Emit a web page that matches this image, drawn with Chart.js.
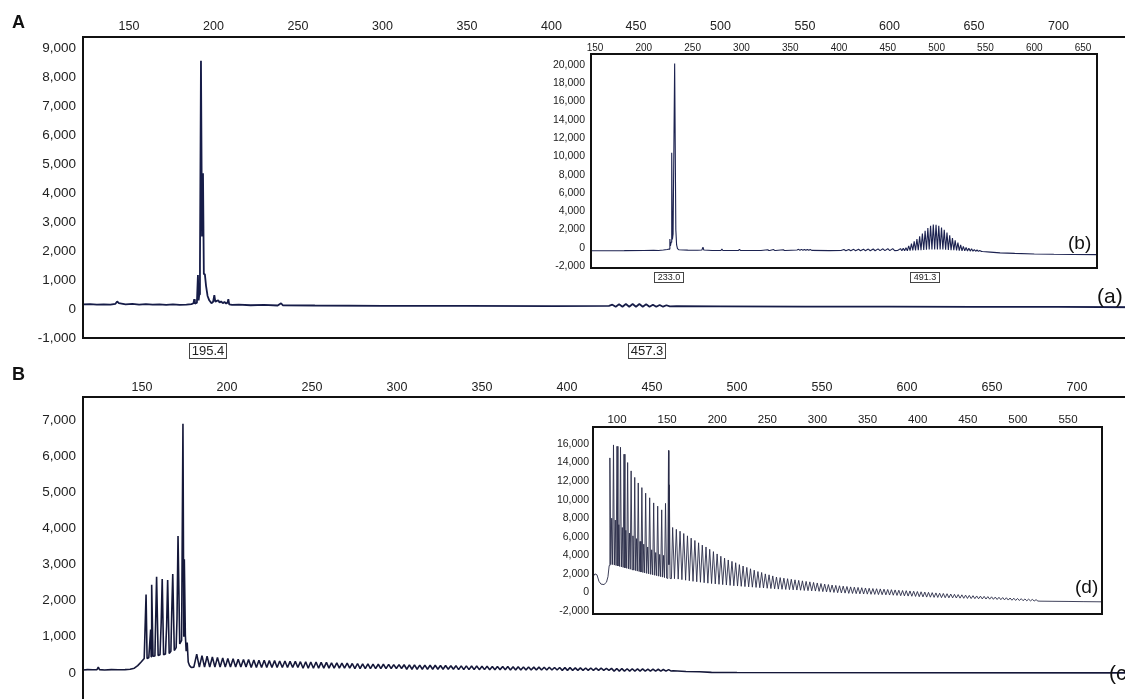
<!DOCTYPE html>
<html>
<head>
<meta charset="utf-8">
<script src="https://cdn.jsdelivr.net/npm/chart.js@4.4.1/dist/chart.umd.min.js"></script>
<style>
  html, body { margin: 0; padding: 0; background: #fff; width: 1125px; height: 699px; overflow: hidden; }
  canvas { position: absolute; }
  .tag { position: absolute; font-family: 'Liberation Sans', Arial, sans-serif; color: #111; line-height: 1; white-space: nowrap; }
</style>
</head>
<body>
<canvas id="chartA" width="1140" height="362" style="left:0;top:0"></canvas>
<canvas id="chartC" width="1140" height="365" style="left:0;top:360px"></canvas>
<canvas id="insetB" width="559" height="245" style="left:540px;top:40px"></canvas>
<canvas id="insetD" width="564" height="219" style="left:540px;top:406px"></canvas>
<div class="tag" style="left:12px;top:13px;font-size:18px;font-weight:bold">A</div>
<div class="tag" style="left:12px;top:365px;font-size:18px;font-weight:bold">B</div>
<div class="tag" style="left:1097px;top:285px;font-size:21px">(a)</div>
<div class="tag" style="left:1068px;top:233px;font-size:19px">(b)</div>
<div class="tag" style="left:1109px;top:662px;font-size:21px">(c)</div>
<div class="tag" style="left:1075px;top:577px;font-size:19px">(d)</div>
<script>
// ticks
const topTicksAC = [150, 200, 250, 300, 350, 400, 450, 500, 550, 600, 650, 700];
const yTicksA = [-1000, 0, 1000, 2000, 3000, 4000, 5000, 6000, 7000, 8000, 9000];
const yTicksC = [-1000, 0, 1000, 2000, 3000, 4000, 5000, 6000, 7000];
const topTicksB = [150, 200, 250, 300, 350, 400, 450, 500, 550, 600, 650];
const yTicksB = [-2000, 0, 2000, 4000, 6000, 8000, 10000, 12000, 14000, 16000, 18000, 20000];
const topTicksD = [100, 150, 200, 250, 300, 350, 400, 450, 500, 550];
const yTicksD = [-2000, 0, 2000, 4000, 6000, 8000, 10000, 12000, 14000, 16000];

// (a) main trace A
const aX = [122.8, 127, 131, 135, 139, 142, 143, 144, 148, 152, 156, 160, 164, 168, 172, 176, 180, 184, 187, 188.2,
  188.6, 189, 190.2, 190.8, 191.2, 191.6, 192.0, 192.6, 193.2, 193.8, 194.3, 194.9, 195.6, 196.5, 197.5, 198.8, 199.8,
  200.5, 201.1, 202, 202.9, 203.6, 204.5, 205.5, 206.5, 207.5, 208.3, 208.8, 209.3, 211, 215, 222, 230, 238, 240, 241,
  260, 300, 350, 400, 434, 436, 438, 440, 442, 444, 446, 448, 450, 452, 454, 456, 458, 460, 462, 464, 466, 468, 470,
  474, 500, 550, 600, 650, 700, 748.2];
const aY = [160, 170, 150, 160, 150, 180, 260, 200, 160, 180, 150, 170, 150, 160, 140, 160, 140, 150, 170, 200,
  340, 180, 220, 1170, 300, 500, 1500, 8560, 2500, 4680, 1200, 1200, 800, 450, 300, 200, 250,
  480, 250, 280, 300, 220, 260, 200, 240, 190, 220, 340, 160, 140, 150, 130, 140, 120, 200, 130,
  120, 110, 110, 100, 110, 150, 80, 160, 80, 170, 80, 170, 80, 170, 80, 160, 80, 150, 80, 140, 80, 130, 90,
  100, 90, 80, 80, 70, 70, 60];

// (b) inset of A
const bX = [145.9, 160, 180, 200, 210, 215, 220, 224, 226, 226.7, 227.3, 228.0, 228.6, 229.3, 230.0, 231.6, 232.8, 233.6,
  234.5, 236, 245, 255, 259.5, 260.6, 261.5, 270, 279, 280, 281, 297, 298, 299, 320, 327, 328, 329, 333, 334, 335, 343,
  344, 345, 357, 358.5, 360, 361.5, 363, 364.5, 366, 367.5, 369, 370.5, 372, 390, 402, 405, 407, 410, 412, 415, 417,
  420, 422, 425, 427, 430, 432, 435, 437, 440, 442, 445, 447, 450, 452, 455, 457, 460];
const bY = [-330, -330, -320, -300, -270, -300, -250, -200, -150, 950, 200, 600, 10400, 900, 1500, 20150, 2000, 300,
  -100, -230, -260, -280, -250, 50, -250, -300, -300, -150, -300, -300, -180, -300, -300, -220, -300, -300, -200, -300, -300, -220,
  -300, -300, -250, -180, -270, -180, -270, -190, -280, -190, -280, -200, -290, -320, -300, -200, -330, -190, -330, -180, -330,
  -170, -330, -160, -330, -150, -330, -140, -330, -130, -320, -120, -320, -110, -320, -100, -320, -300];
const bCombX = [463.0, 465.8, 468.6, 471.4, 474.2, 477.0, 479.8, 482.6, 485.4, 488.2, 491.0, 493.8, 496.6, 499.4, 502.2,
  505.0, 507.8, 510.6, 513.4, 516.2, 519.0, 521.8, 524.6, 527.4, 530.2, 533.0, 535.8, 538.6, 541.4, 544.2];
const bCombH = [-100, -50, 0, 200, 450, 700, 950, 1250, 1550, 1850, 2150, 2400, 2550, 2500, 2400,
  2200, 1950, 1650, 1350, 1050, 800, 550, 320, 150, 30, -50, -120, -200, -250, -300];
const bCombV = [-330, -330, -330, -320, -300, -300, -280, -260, -250, -230, -200, -200, -180, -180, -200,
  -200, -220, -240, -260, -280, -300, -320, -340, -350, -360, -370, -380, -390, -400, -400];
const bTailX = [547, 555, 565, 580, 600, 620, 640, 664.3];
const bTailY = [-420, -480, -560, -620, -680, -720, -750, -760];

// (c) main trace B
const cX = [115.3, 118, 121, 123.5, 124.3, 125, 128, 132, 136, 140, 143, 145.5, 147.5, 149.5, 151.3, 152.4, 153.0, 154.0,
  155.1, 155.4, 155.7, 156.5, 157.6, 158.6, 159.5, 160.6, 161.3, 161.9, 162.7, 163.8, 164.5, 165.1, 166.0, 167.0, 167.5,
  168.1, 169.0, 170.1, 170.6, 171.2, 172.2, 173.3, 174.1, 174.6, 174.9, 175.5, 176.0, 176.6, 177.2, 178.0, 179.0, 180.5];
const cY = [80, 90, 85, 90, 160, 90, 80, 90, 85, 90, 100, 130, 200, 300, 400, 2170, 400, 420,
  1200, 450, 2440, 460, 470, 2660, 480, 500, 1400, 2600, 500, 520, 1300, 2570, 540, 600, 1670,
  2740, 620, 700, 1500, 3790, 800, 900, 6900, 1000, 3150, 1050, 600, 840, 300, 200, 150, 160];
const cRipX = [182.2, 185.3, 188.3, 191.4, 194.4, 197.5, 200.5, 203.6, 206.6, 209.7,
  212.7, 215.8, 218.8, 221.9, 224.9, 228.0, 231.0, 234.1, 237.1, 240.2,
  243.2, 246.3, 249.3, 252.4, 255.4, 258.5, 261.5, 264.6, 267.6, 270.7,
  273.7, 276.8, 279.8, 282.9, 285.9, 289.0, 292.0, 295.1, 298.1, 301.2,
  304.2, 307.3, 310.3, 313.4, 316.4, 319.5, 322.5, 325.6, 328.6, 331.7,
  334.7, 337.8, 340.8, 343.9, 346.9, 350.0, 353.0, 356.1, 359.1, 362.2,
  365.2, 368.3, 371.3, 374.4, 377.4, 380.5, 383.5, 386.6, 389.6, 392.7,
  395.7, 398.8, 401.8, 404.9, 407.9, 411.0, 414.0, 417.1, 420.1, 423.2,
  426.2, 429.3, 432.3, 435.4, 438.4, 441.5, 444.5, 447.6, 450.6, 453.7,
  456.7, 459.8];
const cRipH = [520, 480, 460, 440, 430, 410, 400, 390, 380, 370,
  370, 360, 350, 350, 340, 340, 330, 330, 320, 320,
  310, 310, 300, 300, 290, 290, 280, 280, 270, 270,
  260, 260, 250, 250, 245, 240, 240, 235, 230, 230,
  225, 220, 220, 215, 215, 210, 210, 205, 205, 200,
  200, 195, 195, 190, 190, 185, 185, 180, 180, 175,
  175, 170, 170, 165, 165, 160, 160, 155, 155, 150,
  150, 145, 145, 140, 140, 135, 135, 130, 130, 125,
  125, 120, 120, 115, 115, 110, 110, 105, 105, 100,
  95, 90];
const cRipV = [160, 160, 160, 160, 160, 160, 160, 160, 160, 160,
  150, 150, 150, 150, 150, 150, 150, 150, 150, 150,
  130, 130, 130, 130, 130, 130, 130, 130, 130, 130,
  120, 120, 120, 120, 120, 120, 120, 120, 120, 120,
  100, 100, 100, 100, 100, 100, 100, 100, 100, 100,
  90, 90, 90, 90, 90, 90, 90, 90, 90, 90,
  80, 80, 80, 80, 80, 80, 80, 80, 80, 80,
  70, 70, 70, 70, 70, 70, 70, 70, 70, 70,
  50, 50, 50, 50, 50, 50, 50, 50, 50, 50,
  50, 50];
const cTailX = [462.5, 470, 478, 485, 500, 600, 737.1];
const cTailY = [60, 40, 30, 15, 10, 5, 0];

// (d) inset of B
const dX = [76.05, 78, 80, 82, 84, 87, 89.5, 91, 92.2,
  92.9, 93.8, 94.7, 95.6, 96.5, 97.4, 98.3, 99.1, 100.0, 100.9, 101.8, 102.6,
  103.5, 104.4, 105.3, 106.1, 107.0, 107.9, 108.8, 109.7, 110.6, 111.5, 112.4, 113.2,
  114.1, 115.0, 115.9, 116.8, 117.7, 118.6, 119.5, 120.3, 121.2, 122.1, 123.0, 123.9,
  124.8, 125.8, 126.7, 127.6, 128.6, 129.6, 130.6, 131.6, 132.6, 133.6, 134.6, 135.6,
  136.6, 137.6, 138.6, 139.6, 140.6, 141.6, 142.6, 143.6, 144.6, 145.5, 146.5, 147.4,
  148.4, 149.5, 150.6, 151.4, 151.8, 152.2, 153.0, 154.3];
const dY = [1700, 2000, 1900, 1200, 900, 850, 1100, 1700, 2900,
  14500, 3000, 8000, 3000, 15900, 2950, 7800, 2900, 15750, 2850, 7300, 2800,
  15650, 2750, 7000, 2700, 14900, 2650, 6700, 2600, 14000, 2550, 6400, 2500,
  13100, 2450, 6100, 2400, 12400, 2350, 5800, 2300, 11800, 2250, 5500, 2200,
  11300, 2150, 5200, 2100, 10700, 2050, 4900, 2000, 10200, 1950, 4600, 1900,
  9650, 1850, 4300, 1800, 9300, 1750, 4100, 1700, 8900, 1650, 4000, 1600,
  9600, 1550, 1500, 15300, 3000, 11600, 1500, 1490];
const dCombX = [155.5, 159.2, 162.9, 166.6, 170.3, 174.0, 177.7, 181.4, 185.1, 188.8,
  192.5, 196.2, 199.9, 203.6, 207.3, 211.0, 214.7, 218.4, 222.1, 225.8,
  229.5, 233.2, 236.9, 240.6, 244.3, 248.0, 251.7, 255.4, 259.1, 262.8,
  266.5, 270.2, 273.9, 277.6, 281.3, 285.0, 288.7, 292.4, 296.1, 299.8,
  303.5, 307.2, 310.9, 314.6, 318.3, 322.0, 325.7, 329.4, 333.1, 336.8,
  340.5, 344.2, 347.9, 351.6, 355.3, 359.0, 362.7, 366.4, 370.1, 373.8,
  377.5, 381.2, 384.9, 388.6, 392.3, 396.0, 399.7, 403.4, 407.1, 410.8,
  414.5, 418.2, 421.9, 425.6, 429.3, 433.0, 436.7, 440.4, 444.1, 447.8,
  451.5, 455.2, 458.9, 462.6, 466.3, 470.0, 473.7, 477.4, 481.1, 484.8,
  488.5, 492.2, 495.9, 499.6, 503.3, 507.0, 510.7, 514.4, 518.1];
const dCombH = [7000, 6800, 6600, 6350, 6100, 5850, 5600, 5350, 5100, 4900,
  4650, 4400, 4150, 3900, 3700, 3500, 3350, 3200, 3000, 2850,
  2700, 2550, 2400, 2250, 2150, 2000, 1900, 1780, 1660, 1600,
  1540, 1480, 1420, 1360, 1300, 1250, 1190, 1140, 1080, 1020,
  960, 900, 850, 800, 760, 720, 680, 640, 600, 570,
  540, 510, 480, 450, 420, 400, 380, 350, 320, 300,
  270, 240, 210, 190, 160, 130, 100, 70, 40, 10,
  -20, -50, -80, -110, -140, -170, -200, -230, -260, -290,
  -320, -350, -380, -400, -420, -450, -470, -500, -520, -550,
  -570, -600, -620, -650, -670, -700, -720, -750, -780];
const dCombV = [1480, 1440, 1380, 1320, 1260, 1200, 1150, 1100, 1050, 1000,
  960, 920, 880, 840, 800, 760, 720, 690, 660, 630,
  600, 570, 540, 510, 480, 450, 420, 390, 360, 340,
  320, 300, 280, 260, 240, 210, 190, 170, 150, 120,
  90, 60, 30, 0, -30, -50, -70, -100, -110, -130,
  -150, -170, -180, -200, -210, -230, -240, -260, -280, -300,
  -320, -350, -370, -390, -410, -430, -460, -480, -500, -510,
  -530, -540, -560, -570, -580, -590, -600, -615, -630, -645,
  -660, -670, -685, -700, -710, -725, -740, -760, -780, -800,
  -820, -840, -860, -870, -890, -900, -910, -920, -930];
const dTailX = [522, 535, 550, 565, 583.9];
const dTailY = [-940, -955, -970, -990, -1010];

function pairs(xs, ys) {
  return xs.map((x, i) => ({ x: x, y: ys[i] }));
}
// peak then the valley that follows it, half way to the next peak
function comb(xs, hs, vs) {
  const pts = [];
  xs.forEach((x, i) => {
    pts.push({ x: x, y: hs[i] });
    const next = i + 1 < xs.length ? xs[i + 1] : x + (x - xs[i - 1]);
    pts.push({ x: (x + next) / 2, y: vs[i] });
  });
  return pts;
}

const boxPlugin = {
  id: 'box',
  afterDraw(chart) {
    const { ctx, chartArea: a } = chart;
    ctx.save();
    ctx.strokeStyle = '#111';
    ctx.lineWidth = 2;
    ctx.strokeRect(a.left, a.top, a.right - a.left, a.bottom - a.top);
    ctx.restore();
  }
};

const peakTags = {
  id: 'peakTags',
  afterDraw(chart, args, opts) {
    if (!opts.items) return;
    const { ctx, chartArea } = chart;
    const xs = chart.scales.x;
    ctx.save();
    ctx.font = opts.font;
    ctx.textAlign = 'center';
    ctx.textBaseline = 'middle';
    opts.items.forEach(it => {
      const cx = xs.getPixelForValue(it.at);
      const w = Math.round(ctx.measureText(it.text).width + opts.pad * 2);
      const top = Math.round(chartArea.bottom + opts.gap);
      const left = Math.round(cx - w / 2);
      ctx.strokeStyle = '#444';
      ctx.lineWidth = 1;
      ctx.strokeRect(left + 0.5, top + 0.5, w, opts.h);
      ctx.fillStyle = '#222';
      ctx.fillText(it.text, left + w / 2 + 0.5, top + opts.h / 2 + 1);
    });
    ctx.restore();
  }
};

function trace(id, pts, o) {
  return new Chart(document.getElementById(id), {
    type: 'line',
    data: {
      datasets: [{
        data: pts,
        borderColor: o.color,
        borderWidth: o.lw,
        pointRadius: 0,
        tension: 0,
        fill: false,
        borderJoinStyle: 'bevel'
      }]
    },
    options: {
      responsive: false,
      animation: false,
      events: [],
      layout: { padding: o.pad },
      plugins: {
        legend: { display: false },
        tooltip: { enabled: false },
        peakTags: o.tags || {}
      },
      scales: {
        x: {
          type: 'linear',
          position: 'top',
          min: o.xMin,
          max: o.xMax,
          grid: { display: false, drawTicks: false },
          border: { display: false },
          ticks: { font: { family: 'Liberation Sans', size: o.xFont }, color: '#222', padding: o.xPad, maxRotation: 0, autoSkip: false },
          afterBuildTicks: s => { s.ticks = o.xTicks.map(v => ({ value: v })); },
          afterFit: s => { s.height = o.xH; }
        },
        y: {
          type: 'linear',
          min: o.yMin,
          max: o.yMax,
          grid: { display: false, drawTicks: false },
          border: { display: false },
          ticks: {
            font: { family: 'Liberation Sans', size: o.yFont }, color: '#222', padding: o.yPad, autoSkip: false,
            callback: v => v.toLocaleString('en-US')
          },
          afterBuildTicks: s => { s.ticks = o.yTicks.map(v => ({ value: v })); },
          afterFit: s => { s.width = o.yW; }
        }
      }
    },
    plugins: [boxPlugin, peakTags]
  });
}

trace('chartA', pairs(aX, aY), {
  color: '#161c48', lw: 1.8, pad: { left: 0, top: 0, right: 0, bottom: 24 },
  xMin: 122.8, xMax: 748.2, yMin: -1000, yMax: 9380,
  xTicks: topTicksAC, yTicks: yTicksA, xFont: 12.5, yFont: 13.5, xH: 37, yW: 83, xPad: 2.5, yPad: 7,
  tags: { font: '13px "Liberation Sans"', pad: 2, h: 15, gap: 5, items: [{ at: 196.7, text: '195.4' }, { at: 456, text: '457.3' }] }
});

trace('chartC', pairs(cX, cY).concat(comb(cRipX, cRipH, cRipV), pairs(cTailX, cTailY)), {
  color: '#15183a', lw: 1.6, pad: { left: 0, top: 0, right: 0, bottom: 16 },
  xMin: 115.3, xMax: 737.1, yMin: -1000, yMax: 7640,
  xTicks: topTicksAC, yTicks: yTicksC, xFont: 12.5, yFont: 13.5, xH: 37, yW: 83, xPad: 1.5, yPad: 7
});

trace('insetB', pairs(bX, bY).concat(comb(bCombX, bCombH, bCombV), pairs(bTailX, bTailY)), {
  color: '#1c2250', lw: 1.1, pad: { left: 0, top: 0, right: 2, bottom: 17 },
  xMin: 145.9, xMax: 664.3, yMin: -2220, yMax: 21200,
  xTicks: topTicksB, yTicks: yTicksB, xFont: 10, yFont: 10.5, xH: 14, yW: 51, xPad: 0, yPad: 6,
  tags: { font: '9px "Liberation Sans"', pad: 3, h: 10, gap: 4, items: [{ at: 225, text: '233.0' }, { at: 488, text: '491.3' }] }
});

trace('insetD', pairs(dX, dY).concat(comb(dCombX, dCombH, dCombV), pairs(dTailX, dTailY)), {
  color: '#2a2d48', lw: 0.9, pad: { left: 0, top: 0, right: 2, bottom: 11 },
  xMin: 76.05, xMax: 583.9, yMin: -2323, yMax: 17832,
  xTicks: topTicksD, yTicks: yTicksD, xFont: 11.5, yFont: 10.5, xH: 21, yW: 53, xPad: 0, yPad: 4
});
</script>
</body>
</html>
